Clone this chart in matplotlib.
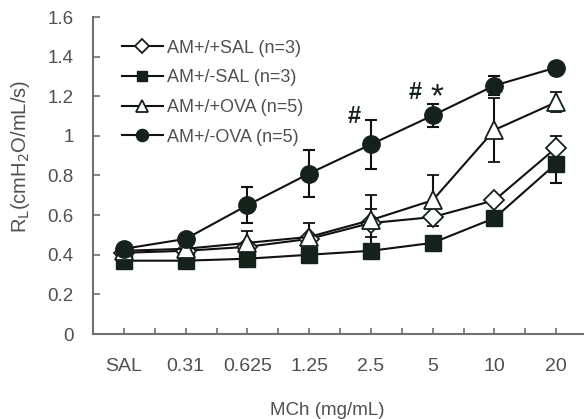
import matplotlib
matplotlib.use("Agg")
import matplotlib.pyplot as plt
import numpy as np

categories = ["SAL", "0.31", "0.625", "1.25", "2.5", "5", "10", "20"]

sal_pp = [0.41, 0.42, 0.44, 0.48, 0.56, 0.59, 0.675, 0.94]
sal_pp_err = [0.01, 0.01, 0.01, 0.01, 0.07, 0.02, 0.02, 0.06]
sal_pm = [0.37, 0.37, 0.38, 0.40, 0.42, 0.46, 0.585, 0.86]
sal_pm_err = [0.01, 0.01, 0.01, 0.01, 0.02, 0.02, 0.03, 0.10]
ova_pp = [0.42, 0.43, 0.46, 0.49, 0.575, 0.675, 1.03, 1.17]
ova_pp_err = [0.01, 0.02, 0.06, 0.07, 0.125, 0.13, 0.16, 0.05]
ova_pm = [0.43, 0.48, 0.65, 0.81, 0.957, 1.103, 1.254, 1.345]
ova_pm_err = [0.02, 0.02, 0.09, 0.12, 0.125, 0.06, 0.05, 0.02]

labels = ["AM+/+SAL (n=3)", "AM+/-SAL (n=3)", "AM+/+OVA (n=5)", "AM+/-OVA (n=5)"]
yticks = [0, 0.2, 0.4, 0.6, 0.8, 1.0, 1.2, 1.4, 1.6]
yticklabels = ["0", "0.2", "0.4", "0.6", "0.8", "1", "1.2", "1.4", "1.6"]

plt.rcParams['font.family'] = ['Liberation Sans', 'DejaVu Sans']
txt = "#505050"
mk = "#15221b"
spine_c = "#707070"

fig = plt.figure(figsize=(5.84, 4.19), dpi=100)
ax = fig.add_axes([93/584, (419-334)/419, (584-93)/584, (334-17)/419])

x = np.arange(len(categories))
series = [
    (sal_pp, sal_pp_err, dict(marker="D", mfc="white", mec=mk, ms=10, mew=1.3)),
    (sal_pm, sal_pm_err, dict(marker="s", mfc=mk, mec=mk, ms=11)),
    (ova_pp, ova_pp_err, dict(marker="^", mfc="white", mec=mk, ms=12.5, mew=1.3)),
    (ova_pm, ova_pm_err, dict(marker="o", mfc=mk, mec=mk, ms=12.5)),
]
handles = []
for (vals, err, st), lab in zip(series, labels):
    c = ax.errorbar(x, vals, yerr=err, color="#111111", lw=1.5, capsize=4,
                    elinewidth=1.5, capthick=1.5, label=lab, **st)
    handles.append(c[0])

ax.set_xlim(-0.5, 7.45)
ax.set_ylim(0, 1.6)
ax.set_yticks(yticks)
ax.set_yticklabels(yticklabels)
ax.set_xticks(x)
ax.set_xticklabels(categories)
ax.set_xticks(x[:-1] + 0.5, minor=True)
for s in ["top", "right"]:
    ax.spines[s].set_visible(False)
for s in ["left", "bottom"]:
    ax.spines[s].set_color(spine_c)
    ax.spines[s].set_linewidth(1.5)
ax.tick_params(axis="y", direction="in", length=5, width=1.2, color=spine_c,
               labelsize=13.5, labelcolor=txt, pad=14)
ax.tick_params(axis="x", which="both", direction="in", length=4, width=1.2,
               color=spine_c, labelsize=14, labelcolor=txt, pad=17)

ax.set_ylabel(r"R$_\mathrm{L}$(cmH$_2$O/mL/s)", fontsize=14.5, color=txt)
ax.yaxis.set_label_coords(-0.125, 0.56)
fig.text(327/584, 9/419, "MCh (mg/mL)", fontsize=13.5, color=txt,
         ha="center", va="center")

ax.text(3.73, 1.10, "#", fontsize=17, fontweight="bold", color=mk, ha="center", va="center")
ax.text(4.72, 1.22, "#", fontsize=17, fontweight="bold", color=mk, ha="center", va="center")
ax.text(5.07, 1.19, "*", fontsize=24, color=mk, ha="center", va="center")

leg = ax.legend(handles=handles, labels=labels, loc="upper left",
                bbox_to_anchor=(0.025, 0.98), frameon=False,
                fontsize=13, handlelength=2.3, handletextpad=0.2,
                labelspacing=0.7, labelcolor=txt, markerscale=0.7)

fig.savefig("out.png", dpi=100)
